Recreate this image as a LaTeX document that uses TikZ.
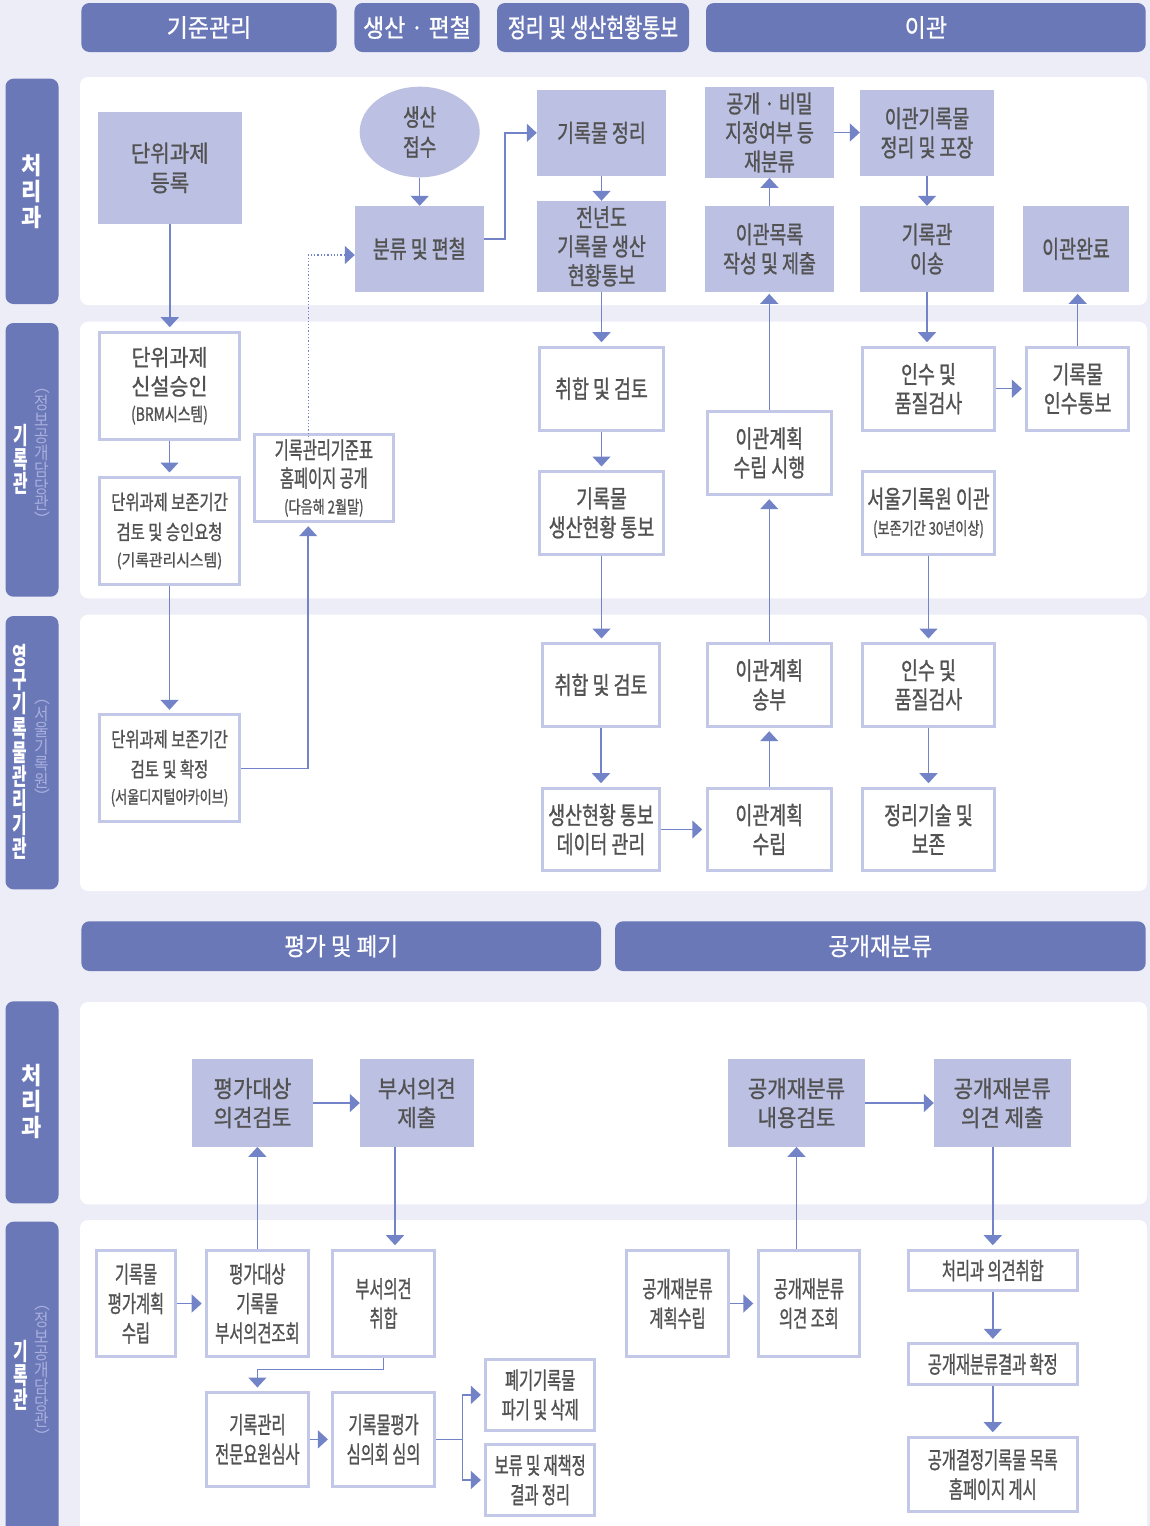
\documentclass[tikz,border=0pt]{standalone}
\usepackage{fontspec}
\usetikzlibrary{arrows.meta,shapes.geometric}
\newfontfamily\krA{Noto Sans CJK KR}[FakeStretch=0.9, FakeBold=1.0]
\newfontfamily\krB{Noto Sans CJK KR}[FakeStretch=0.75, FakeBold=1.0]
\newfontfamily\krC{Noto Sans CJK KR}[FakeStretch=0.65, FakeBold=1.0]
\newfontfamily\krH{Noto Sans CJK KR}[FakeStretch=0.92, FakeBold=0.8]
\newfontfamily\krS{Noto Sans CJK KR}[FakeStretch=0.9]
\newfontfamily\krL{Noto Sans CJK KR}[FakeStretch=0.92]
\newfontfamily\krLc{Noto Sans CJK KR}[FakeStretch=0.66]
\definecolor{bgc}{RGB}{237,237,247}
\definecolor{hdr}{RGB}{106,120,184}
\definecolor{fillc}{RGB}{188,192,226}
\definecolor{bordc}{RGB}{195,199,232}
\definecolor{txtc}{RGB}{82,82,82}
\definecolor{arrc}{RGB}{115,131,199}
\definecolor{subc}{RGB}{168,174,221}
\tikzset{
  fb/.style={fill=fillc, text=txtc, align=center, inner sep=0pt, font=\krB\fontsize{24.5}{29}\selectfont},
  ob/.style={draw=bordc, line width=3pt, fill=white, text=txtc, align=center, inner sep=0pt, font=\krB\fontsize{24.5}{29}\selectfont},
  hbox/.style={fill=hdr, rounded corners=8pt, text=white, align=center, inner sep=0pt, minimum height=49pt, font=\krH\fontsize{25}{30}\selectfont},
  sidebar/.style={fill=hdr, rounded corners=8pt},
  mainlbl/.style={text=white, align=center, inner sep=0pt},
  sublbl/.style={text=subc, align=center, inner sep=0pt, font=\krS\fontsize{17.5}{16.7}\selectfont},
  arr/.style={draw=arrc, line width=1.5pt, -{Triangle[length=10pt,width=18pt]}},
  arro/.style={arr, shorten >=3.5pt},
  dotarr/.style={draw=arrc, line width=1.3pt, dash pattern=on 1.3pt off 2pt, -{Triangle[length=10pt,width=18pt]}},
  oc/.style={ob, font=\krC\fontsize{23.5}{29.5}\selectfont}
}
\begin{document}
\begin{tikzpicture}[x=1pt,y=-1pt]
\useasboundingbox (0,0) rectangle (1150,1526);
\fill[bgc] (0,0) rectangle (1150,1526);
% panels
\fill[white, rounded corners=8pt] (80,77) rectangle (1147,305);
\fill[white, rounded corners=8pt] (80,321.7) rectangle (1147,598.3);
\fill[white, rounded corners=8pt] (80,614.7) rectangle (1147,891);
\fill[white, rounded corners=8pt] (80,1002) rectangle (1147,1204.3);
\fill[white, rounded corners=8pt] (80,1220) rectangle (1147,1560);
% side bars
\fill[sidebar] (5.5,78.7) rectangle (58.5,304);
\fill[sidebar] (5.5,323) rectangle (58.5,596.7);
\fill[sidebar] (5.5,616) rectangle (58.5,889.3);
\fill[sidebar] (5.5,1001.3) rectangle (58.5,1203.3);
\fill[sidebar] (5.5,1221.7) rectangle (58.5,1560);
\node[mainlbl, font=\krL\bfseries\fontsize{24}{26}\selectfont] (L1) at (32,191.3) {처\\리\\과};
\node[mainlbl, font=\krLc\bfseries\fontsize{24}{24}\selectfont] (L2) at (21,459) {기\\록\\관};
\node[sublbl] (L2s) at (42,458) {︵\\정\\보\\공\\개\\담\\당\\관\\︶};
\node[mainlbl, font=\krLc\bfseries\fontsize{24}{24.1}\selectfont] (L3) at (20,752) {영\\구\\기\\록\\물\\관\\리\\기\\관};
\node[sublbl] (L3s) at (42,752) {︵\\서\\울\\기\\록\\원\\︶};
\node[mainlbl, font=\krL\bfseries\fontsize{24}{26}\selectfont] (L4) at (32,1101) {처\\리\\과};
\node[mainlbl, font=\krLc\bfseries\fontsize{24}{24}\selectfont] (L5) at (21,1375) {기\\록\\관};
\node[sublbl] (L5s) at (42,1375) {︵\\정\\보\\공\\개\\담\\당\\관\\︶};
% headers
\node[hbox, minimum width=255.3pt] (H1) at (209,27.5) {기준관리};
\node[hbox, minimum width=125.1pt] (H2) at (417,27.5) {생산 · 편철};
\node[hbox, minimum width=192pt, font=\krB\fontsize{26}{30}\selectfont, text=white] (H3) at (593,27.5) {정리 및 생산현황통보};
\node[hbox, minimum width=439.7pt] (H4) at (925.85,27.5) {이관};
\node[hbox, minimum width=519.6pt, minimum height=49.7pt, font=\krH\fontsize{24.5}{30}\selectfont] (H5) at (341.2,946.15) {평가 및 폐기};
\node[hbox, minimum width=530.7pt, minimum height=49.7pt, font=\krH\fontsize{24.5}{30}\selectfont] (H6) at (880.35,946.15) {공개재분류};
% ---- top panel 1 (filled)
\node[fb, minimum width=143.6pt, minimum height=111.7pt, font=\krA\fontsize{23.5}{29.5}\selectfont] (A1) at (169.8,167.9) {단위과제\\등록};
\node[ellipse, fill=fillc, text=txtc, align=center, inner sep=0pt, minimum width=120pt, minimum height=90.6pt, font=\krB\fontsize{24}{30}\selectfont] (E1) at (419.7,132) {생산\\접수};
\node[fb, minimum width=128.5pt, minimum height=85.7pt] (B1) at (419.25,248.85) {분류 및 편철};
\node[fb, minimum width=129pt, minimum height=85.7pt] (C1) at (601.5,132.85) {기록물 정리};
\node[fb, minimum width=129pt, minimum height=90.7pt] (C2) at (601.5,246.35) {전년도\\기록물 생산\\현황통보};
\node[fb, minimum width=129pt, minimum height=90.4pt] (D1) at (769.5,132.5) {공개 · 비밀\\지정여부 등\\재분류};
\node[fb, minimum width=129pt, minimum height=85.7pt] (D2) at (769.5,248.85) {이관목록\\작성 및 제출};
\node[fb, minimum width=134pt, minimum height=85.7pt] (F1) at (927,132.85) {이관기록물\\정리 및 포장};
\node[fb, minimum width=134pt, minimum height=85.7pt] (F2) at (927,248.85) {기록관\\이송};
\node[fb, minimum width=106pt, minimum height=85.7pt] (G2) at (1076,248.85) {이관완료};
% ---- panel 2 (outline)
\node[ob, minimum width=140pt, minimum height=107pt, font=\krA\fontsize{23}{29}\selectfont] (A2) at (169.5,385.7) {단위과제\\신설승인\\[-3pt]{\krB\fontsize{18.5}{20}\selectfont (BRM시스템)}};
\node[ob, minimum width=140pt, minimum height=107pt, font=\krB\fontsize{20.5}{30}\selectfont] (A3) at (169.5,531) {단위과제 보존기간\\검토 및 승인요청\\[-3.5pt]{\krA\fontsize{16.5}{20}\selectfont (기록관리시스템)}};
\node[ob, minimum width=139.3pt, minimum height=86.4pt, font=\krC\fontsize{23.5}{28.3}\selectfont] (K) at (323.85,478) {기록관리기준표\\홈페이지 공개\\[-2pt]{\krB\fontsize{17.5}{20}\selectfont (다음해 2월말)}};
\node[ob, minimum width=124pt, minimum height=83pt] (C3) at (601.5,388.7) {취합 및 검토};
\node[ob, minimum width=124pt, minimum height=82.7pt] (C4) at (601.5,512.85) {기록물\\생산현황 통보};
\node[ob, minimum width=124pt, minimum height=82.7pt] (D3) at (769.25,452.85) {이관계획\\수립 시행};
\node[ob, minimum width=132pt, minimum height=83pt] (F3) at (928.5,388.7) {인수 및\\품질검사};
\node[ob, minimum width=101.6pt, minimum height=83pt] (G3) at (1077.7,388.7) {기록물\\인수통보};
\node[ob, minimum width=132pt, minimum height=82.7pt] (F4) at (928.5,512.85) {서울기록원 이관\\[-2.3pt]{\fontsize{17.5}{20}\selectfont (보존기간 30년이상)}};
% ---- panel 3
\node[ob, minimum width=140pt, minimum height=107pt, font=\krB\fontsize{20.5}{30}\selectfont] (A4) at (169.5,768.3) {단위과제 보존기간\\검토 및 확정\\[-3.5pt]{\fontsize{17.5}{20}\selectfont (서울디지털아카이브)}};
\node[ob, minimum width=117pt, minimum height=82.7pt] (C5) at (601,684.85) {취합 및 검토};
\node[ob, minimum width=117pt, minimum height=82.6pt] (C6) at (601,829.5) {생산현황 통보\\데이터 관리};
\node[ob, minimum width=124pt, minimum height=82.7pt] (D4) at (769.25,684.85) {이관계획\\송부};
\node[ob, minimum width=124pt, minimum height=82.6pt] (D5) at (769.25,829.5) {이관계획\\수립};
\node[ob, minimum width=132pt, minimum height=82.7pt] (F5) at (928.5,684.85) {인수 및\\품질검사};
\node[ob, minimum width=132pt, minimum height=82.6pt] (F6) at (928.5,829.5) {정리기술 및\\보존};
% ---- panel 4 (filled)
\node[fb, minimum width=121pt, minimum height=87.4pt, font=\krA\fontsize{23.5}{29}\selectfont] (P1) at (252.5,1103) {평가대상\\의견검토};
\node[fb, minimum width=113.5pt, minimum height=87.4pt, font=\krA\fontsize{23.5}{29}\selectfont] (P2) at (416.75,1103) {부서의견\\제출};
\node[fb, minimum width=137pt, minimum height=87.4pt, font=\krA\fontsize{23.5}{29}\selectfont] (Q1) at (796.5,1103) {공개재분류\\내용검토};
\node[fb, minimum width=136.5pt, minimum height=87.4pt, font=\krA\fontsize{23.5}{29}\selectfont] (Q2) at (1002.25,1103) {공개재분류\\의견 제출};
% ---- panel 5 (outline)
\node[oc, minimum width=78.4pt, minimum height=106.6pt] (R1) at (136,1303.5) {기록물\\평가계획\\수립};
\node[oc, minimum width=101.4pt, minimum height=106.6pt] (R2) at (257.4,1303.5) {평가대상\\기록물\\부서의견조회};
\node[oc, minimum width=101.3pt, minimum height=106.6pt] (R3) at (383.55,1303.5) {부서의견\\취합};
\node[oc, minimum width=101.4pt, minimum height=93.7pt] (R4) at (257.4,1439.35) {기록관리\\전문요원심사};
\node[oc, minimum width=101.3pt, minimum height=93.7pt] (R5) at (383.55,1439.35) {기록물평가\\심의회 심의};
\node[oc, minimum width=108.6pt, minimum height=70.7pt] (R6) at (540.2,1394.85) {폐기기록물\\파기 및 삭제};
\node[oc, minimum width=108.6pt, minimum height=70.4pt] (R7) at (540.2,1480) {보류 및 재책정\\결과 정리};
\node[oc, minimum width=101.5pt, minimum height=106.6pt] (S1) at (677.55,1303.5) {공개재분류\\계획수립};
\node[oc, minimum width=101.2pt, minimum height=106.6pt] (S2) at (808.9,1303.5) {공개재분류\\의견 조회};
\node[oc, minimum width=169.4pt, minimum height=40.6pt] (S3) at (992.8,1270.5) {처리과 의견취합};
\node[oc, minimum width=169.4pt, minimum height=40.7pt] (S4) at (992.8,1364.15) {공개재분류결과 확정};
\node[oc, minimum width=169.4pt, minimum height=74.6pt] (S5) at (992.8,1474.5) {공개결정기록물 목록\\홈페이지 게시};
% helper coordinates
\coordinate (kx) at (308.2,0);
\coordinate (dy) at (0,255);
\coordinate (b1y) at (0,239);
\coordinate (b1x) at (505,0);
\coordinate (x395) at (395,0);
\coordinate (r3y) at (0,1369.3);
\coordinate (jn) at (462.6,1439.35);
% ---- connectors top
\draw[arro] (A1.south) -- (A1.south |- A2.north);
\draw[arro] (A2.south) -- (A2.south |- A3.north);
\draw[arro] (A3.south) -- (A3.south |- A4.north);
\draw[arro] (A4.east) -| (K.south -| kx);
\draw[dotarr, shorten <=-4pt] (K.north -| kx) |- (B1.west |- dy);
\draw[arr] (E1.south) -- (E1.south |- B1.north);
\draw[arr] (B1.east |- b1y) -- (b1x |- b1y) |- (C1.west);
\draw[arr] (C1.south) -- (C1.south |- C2.north);
\draw[arro] (C2.south) -- (C2.south |- C3.north);
\draw[arro] (C3.south) -- (C3.south |- C4.north);
\draw[arro] (C4.south) -- (C4.south |- C5.north);
\draw[arro] (C5.south) -- (C5.south |- C6.north);
\draw[arro] (C6.east) -- (C6.east -| D5.west);
\draw[arro] (D5.north) -- (D5.north |- D4.south);
\draw[arro] (D4.north) -- (D4.north |- D3.south);
\draw[arr, shorten >=2pt] (D3.north) -- (D3.north |- D2.south);
\draw[arr] (D2.north) -- (D2.north |- D1.south);
\draw[arr] (D1.east) -- (D1.east -| F1.west);
\draw[arr] (F1.south) -- (F1.south |- F2.north);
\draw[arro] (F2.south) -- (F2.south |- F3.north);
\draw[arro] (F3.east) -- (F3.east -| G3.west);
\draw[arr, shorten >=2pt] (G3.north) -- (G3.north |- G2.south);
\draw[arro] (F4.south) -- (F4.south |- F5.north);
\draw[arro] (F5.south) -- (F5.south |- F6.north);
% ---- connectors bottom
\draw[arro] (R1.east) -- (R1.east -| R2.west);
\draw[arr] (R2.north) -- (R2.north |- P1.south);
\draw[arr] (P1.east) -- (P1.east -| P2.west);
\draw[arro] (P2.south -| x395) -- (R3.north -| x395);
\draw[arro] (R3.south) -- (R3.south |- r3y) -| (R4.north);
\draw[arro] (R4.east) -- (R4.east -| R5.west);
\draw[draw=arrc, line width=1.5pt] (R5.east) -- (jn);
\draw[arro] (jn) |- (R6.west);
\draw[arro] (jn) |- (R7.west);
\draw[arro] (S1.east) -- (S1.east -| S2.west);
\draw[arr] (S2.north -| Q1.south) -- (Q1.south);
\draw[arr] (Q1.east) -- (Q1.east -| Q2.west);
\draw[arro] (Q2.south -| S3.north) -- (S3.north);
\draw[arro] (S3.south) -- (S3.south |- S4.north);
\draw[arro] (S4.south) -- (S4.south |- S5.north);
\end{tikzpicture}
\end{document}
